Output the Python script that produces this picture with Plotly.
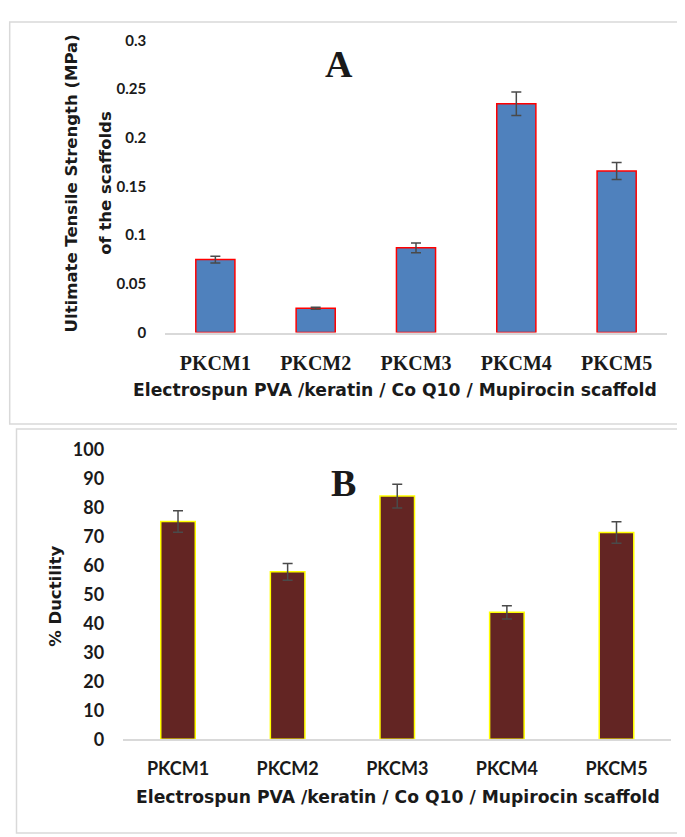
import plotly.graph_objects as go

# ---------------- data ----------------
categories = ["PKCM1", "PKCM2", "PKCM3", "PKCM4", "PKCM5"]
uts_values = [0.075, 0.025, 0.087, 0.235, 0.166]
uts_errors = [0.0035, 0.001, 0.005, 0.012, 0.0087]
ductility_values = [75.3, 57.9, 84.1, 43.9, 71.5]
ductility_errors = [3.7, 2.9, 4.1, 2.3, 3.7]
uts_tick_vals = [0, 0.05, 0.1, 0.15, 0.2, 0.25, 0.3]
uts_tick_text = ["0", "0.05", "0.1", "0.15", "0.2", "0.25", "0.3"]
duct_tick_vals = [0, 10, 20, 30, 40, 50, 60, 70, 80, 90, 100]
duct_tick_text = ["0", "10", "20", "30", "40", "50", "60", "70", "80", "90", "100"]

W, H = 685, 837


def px(x):
    return x / W


def py(y):
    return 1 - y / H


SANS = "Lato"
TITLE = "DejaVu Sans"
SERIF = "Liberation Serif"
TXT = "#1a1a1a"

fig = go.Figure()

fig.add_trace(go.Bar(
    x=categories, y=uts_values, xaxis="x", yaxis="y", width=0.39,
    marker=dict(color="#4F81BD", line=dict(color="#FF0000", width=1.5)),
    error_y=dict(type="data", array=uts_errors, color="#4a4a4a", thickness=1.5, width=5),
    hoverinfo="x+y",
))
fig.add_trace(go.Bar(
    x=categories, y=ductility_values, xaxis="x2", yaxis="y2", width=0.315,
    marker=dict(color="#632523", line=dict(color="#FFFF00", width=1.5)),
    error_y=dict(type="data", array=ductility_errors, color="#4a4a4a", thickness=1.5, width=5),
    hoverinfo="x+y",
))

axis_common = dict(showgrid=False, zeroline=False, fixedrange=True)

fig.update_layout(
    width=W, height=H,
    margin=dict(l=0, r=0, t=0, b=0),
    paper_bgcolor="white", plot_bgcolor="white",
    showlegend=False,
    xaxis=dict(domain=[px(157.2), px(658.8)], anchor="y", range=[-0.5, 4.5],
               showline=True, linecolor="#D9D9D9", linewidth=1.5, ticks="",
               ticklabelstandoff=12,
               tickfont=dict(family=SERIF, size=20, color=TXT, weight="bold"),
               **axis_common),
    yaxis=dict(domain=[py(321), py(21)], anchor="x", range=[0, 0.3],
               tickvals=uts_tick_vals, ticktext=uts_tick_text, ticks="",
               showline=False, ticklabelstandoff=18,
               tickfont=dict(family=SANS, size=15, color=TXT, weight="bold"),
               **axis_common),
    xaxis2=dict(domain=[px(115.2), px(663.3)], anchor="y2", range=[-0.5, 4.5],
                showline=True, linecolor="#D9D9D9", linewidth=1.5, ticks="",
                ticklabelstandoff=12,
                tickfont=dict(family=SANS, size=18, color=TXT, weight="bold"),
                **axis_common),
    yaxis2=dict(domain=[py(738.7), py(441.7)], anchor="x2", range=[0, 100],
                tickvals=duct_tick_vals, ticktext=duct_tick_text, ticks="",
                showline=False, ticklabelstandoff=18,
                tickfont=dict(family=SANS, size=18, color=TXT, weight="bold"),
                **axis_common),
)

# panel borders
fig.add_shape(type="rect", xref="paper", yref="paper",
              x0=px(1.7), x1=px(678), y0=py(415), y1=py(2),
              line=dict(color="#D9D9D9", width=1.5), fillcolor="rgba(0,0,0,0)", layer="below")
fig.add_shape(type="rect", xref="paper", yref="paper",
              x0=px(8.5), x1=px(680), y0=py(835), y1=py(420),
              line=dict(color="#D9D9D9", width=1.5), fillcolor="rgba(0,0,0,0)", layer="below")


def ann(text, x, y, family, size, angle=0):
    fig.add_annotation(text=text, xref="paper", yref="paper", x=px(x), y=py(y),
                       xanchor="center", yanchor="middle", showarrow=False,
                       textangle=angle,
                       font=dict(family=family, size=size, color=TXT, weight="bold"))


ann("A", 331, 45, SERIF, 38)
ann("B", 335.7, 475, SERIF, 38)
ann("Ultimate Tensile Strength (MPa)", 63.3, 167.5, TITLE, 16.5, -90)
ann("of the scaffolds", 96.7, 167.5, TITLE, 16.5, -90)
ann("% Ductility", 46.7, 591.7, TITLE, 16.5, -90)
ann("Electrospun PVA /keratin / Co Q10 / Mupirocin scaffold", 386.5, 380, TITLE, 17.2)
ann("Electrospun PVA /keratin / Co Q10 / Mupirocin scaffold", 389.5, 798, TITLE, 17.2)

fig.write_html("out.html")
